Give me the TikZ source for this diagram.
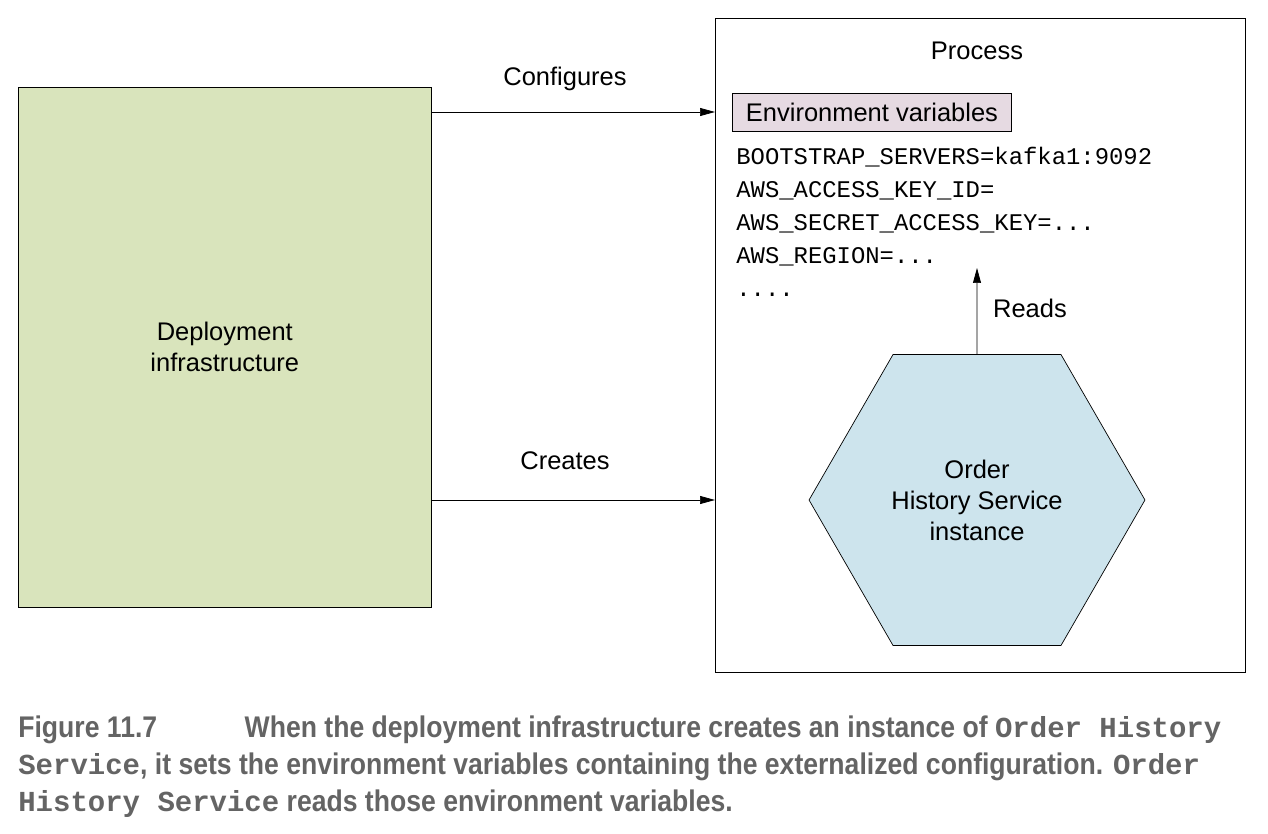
\documentclass[tikz,border=0pt]{standalone}
\usepackage{fontspec}
\setmainfont{Liberation Sans}
\setmonofont{Liberation Mono}
\newfontfamily\capfont[FakeStretch=0.89]{Liberation Sans}
\usetikzlibrary{shapes.geometric,arrows.meta}
\definecolor{infragreen}{RGB}{217,228,188}
\definecolor{hexblue}{RGB}{205,228,237}
\definecolor{envpink}{RGB}{230,218,226}
\definecolor{capgray}{RGB}{100,100,100}

\begin{document}
\begin{tikzpicture}[x=0.02cm,y=-0.02cm,
        lbl/.style={font=\fontsize{14.5}{17.6}\selectfont},
        conn/.style={-{Triangle[length=3mm,width=1.6mm]}}]
        \useasboundingbox (0,0) rectangle (1268,834);

        \node[draw, fill=infragreen, lbl, align=center, minimum width=8.26cm, minimum height=10.4cm, inner sep=0, anchor=north west] (infra) at (18,87) {Deployment\\infrastructure};

        \node[draw, minimum width=10.6cm, minimum height=13.08cm, inner sep=0, anchor=north west] (process) at (715,18) {};
        \node[lbl] (proctitle) at (977,51) {Process};

        \node[draw, fill=envpink, lbl, minimum width=5.58cm, minimum height=0.76cm, inner sep=0] (env) at (872,112) {Environment variables};

        \node[anchor=north west, align=left, inner sep=0, font=\ttfamily\fontsize{13.6}{18.8}\selectfont] (vars) at (736,147) {BOOTSTRAP\_SERVERS=kafka1:9092\\AWS\_ACCESS\_KEY\_ID=\\AWS\_SECRET\_ACCESS\_KEY=...\\AWS\_REGION=...\\....};

        \node[regular polygon, regular polygon sides=6, draw, fill=hexblue, lbl, align=center, minimum size=6.72cm, inner sep=0] (hex) at (977,500) {Order\\History Service\\instance};

        \coordinate (readtip) at (977,268);

        \draw[conn] (infra.east |- env.west) -- (process.west |- env.west);
        \node[lbl] (configures) at (565,79) {Configures};

        \draw[conn] (infra.east |- hex) -- (process.west |- hex);
        \node[lbl] (creates) at (565,461) {Creates};

        \draw[conn] (hex.north) -- (readtip);
        \node[lbl] (reads) at (1030,308) {Reads};

        % caption
        \node[anchor=west, align=left, inner sep=0, text=capgray, font=\capfont\bfseries\fontsize{17}{21}\selectfont] (caption) at (18,767) {Figure 11.7\hspace{1.75cm}When the deployment infrastructure creates an instance of {\ttfamily\fontsize{16.5}{21}\selectfont Order History}\\{\ttfamily\fontsize{16.5}{21}\selectfont Service}, it sets the environment variables containing the externalized configuration. {\ttfamily\fontsize{16.5}{21}\selectfont Order}\\{\ttfamily\fontsize{16.5}{21}\selectfont History Service} reads those environment variables.};
\end{tikzpicture}
\end{document}
